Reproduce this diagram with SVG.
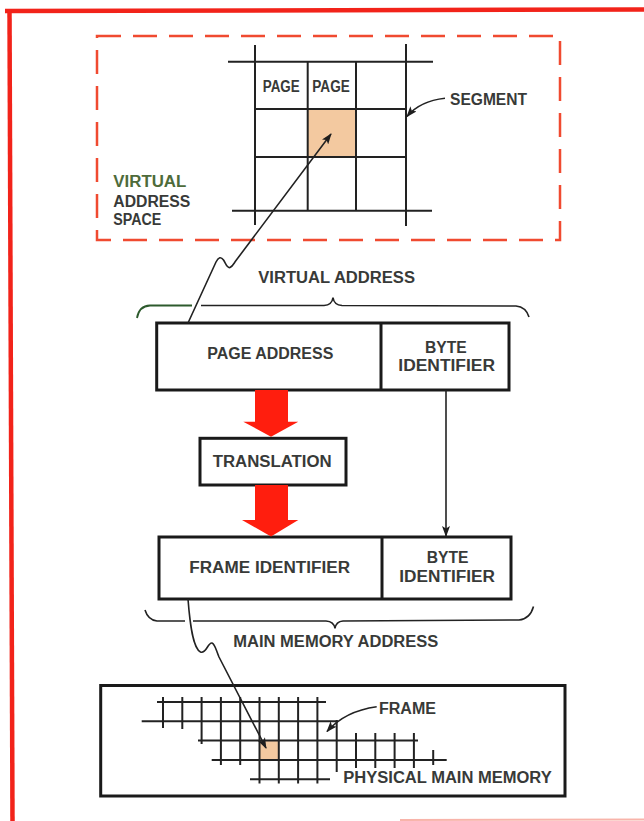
<svg xmlns="http://www.w3.org/2000/svg" width="644" height="821" viewBox="0 0 644 821">
<style>
.t{font-family:"Liberation Sans",Arial,sans-serif;font-weight:bold;font-size:16px;fill:#383a38}
.g{fill:#4e6b3a}
.box{fill:#fff;stroke:#1a1a1a;stroke-width:3}
.ln{fill:none;stroke:#222;stroke-width:1.6}
.grid{stroke:#222;stroke-width:2;fill:none}
.red{fill:#ff1e0e}
.shade{fill:#f3c9a0}
</style>
<defs>
<marker id="ah" markerWidth="11" markerHeight="8" refX="10" refY="4" orient="auto" markerUnits="userSpaceOnUse"><path d="M0,0 L11,4 L0,8 L2.5,4 z" fill="#1e1e1e"/></marker>
</defs>
<rect width="644" height="821" fill="#fff"/>
<g id="border">
<line x1="5" y1="11" x2="644" y2="9.5" stroke="#f2231a" stroke-width="4.5"/>
<line x1="9.5" y1="9" x2="12.5" y2="821" stroke="#f2231a" stroke-width="4.5"/>
<line x1="400" y1="820" x2="644" y2="819.5" stroke="#f8b4aa" stroke-width="2"/>
</g>
<g id="virtual-address-space">
<rect x="97" y="36" width="463" height="204" fill="none" stroke="#f04a30" stroke-width="2.5" stroke-dasharray="24 12"/>
<rect class="shade" x="308" y="109" width="48" height="48"/>
<g class="grid">
<line x1="228" y1="61.7" x2="433" y2="61.7"/>
<line x1="255" y1="109" x2="405" y2="109"/>
<line x1="255" y1="157" x2="405" y2="157"/>
<line x1="232" y1="210.7" x2="432" y2="210.7"/>
<line x1="255" y1="45" x2="255" y2="225"/>
<line x1="307.7" y1="61.7" x2="307.7" y2="210.7"/>
<line x1="356" y1="61.7" x2="356" y2="210.7"/>
<line x1="406" y1="44" x2="406" y2="226"/>
</g>
<text class="t" x="262.7" y="91.7" textLength="37" lengthAdjust="spacingAndGlyphs">PAGE</text>
<text class="t" x="312.3" y="91.7" textLength="37.5" lengthAdjust="spacingAndGlyphs">PAGE</text>
<text class="t g" x="113.3" y="186.7" textLength="73" lengthAdjust="spacingAndGlyphs">VIRTUAL</text>
<text class="t" x="113.3" y="206.7" textLength="77" lengthAdjust="spacingAndGlyphs">ADDRESS</text>
<text class="t" x="113.3" y="225" textLength="48" lengthAdjust="spacingAndGlyphs">SPACE</text>
</g>
<g id="segment-label">
<text class="t" x="450" y="105" textLength="77" lengthAdjust="spacingAndGlyphs" style="font-size:17px">SEGMENT</text>
</g>
<g id="virtual-address-label">
<text class="t" x="258.3" y="283.3" textLength="156.7" lengthAdjust="spacingAndGlyphs">VIRTUAL ADDRESS</text>
<path d="M137,318 Q139,306 150,305.5 L192,305.5" fill="none" stroke="#2d5a2d" stroke-width="1.8"/>
<path d="M201,305.5 L324,305.5 Q332,305 333,297.5 Q334,305 342,305.5 L516,306 Q526,307 529,317" class="ln"/>
</g>
<g id="page-address">
<rect class="box" x="156.7" y="323" width="352.3" height="67"/>
<line x1="381" y1="323" x2="381" y2="390" stroke="#1a1a1a" stroke-width="3"/>
<text class="t" x="207.3" y="359.3" textLength="126" lengthAdjust="spacingAndGlyphs">PAGE ADDRESS</text>
<text class="t" x="425" y="353.3" textLength="41.7" lengthAdjust="spacingAndGlyphs">BYTE</text>
<text class="t" x="398.3" y="370.7" textLength="96.7" lengthAdjust="spacingAndGlyphs">IDENTIFIER</text>
</g>
<g id="translation">
<rect class="box" x="200" y="438.3" width="146" height="46.7"/>
<text class="t" x="212.7" y="466.7" textLength="119" lengthAdjust="spacingAndGlyphs">TRANSLATION</text>
</g>
<g id="frame-identifier">
<rect class="box" x="159" y="537" width="352" height="62"/>
<line x1="382" y1="537" x2="382" y2="599" stroke="#1a1a1a" stroke-width="3"/>
<text class="t" x="189.3" y="573.3" textLength="160.7" lengthAdjust="spacingAndGlyphs">FRAME IDENTIFIER</text>
<text class="t" x="426.7" y="563.3" textLength="41.7" lengthAdjust="spacingAndGlyphs">BYTE</text>
<text class="t" x="399.3" y="581.7" textLength="95.7" lengthAdjust="spacingAndGlyphs">IDENTIFIER</text>
</g>
<g id="main-memory-address-label">
<path d="M145,610 Q148,620 157,621 L185,621" class="ln"/>
<path d="M193,621 L326,621 Q334,621.5 335,628.5 Q336,621.5 343,621 L519,620 Q530,619 533.5,606.5" class="ln"/>
<text class="t" x="233.3" y="646.7" textLength="205" lengthAdjust="spacingAndGlyphs">MAIN MEMORY ADDRESS</text>
</g>
<g id="physical-main-memory">
<rect class="box" x="100.7" y="685.5" width="464.3" height="110.5"/>
<rect class="shade" x="259.5" y="740.6" width="19.3" height="19.3"/>
<g class="grid">
<line x1="157" y1="702" x2="326" y2="702"/>
<line x1="141.7" y1="721.3" x2="338" y2="721.3"/>
<line x1="198" y1="740.6" x2="418" y2="740.6"/>
<line x1="211.7" y1="759.9" x2="446.7" y2="759.9"/>
<line x1="250" y1="779.2" x2="330" y2="779.2"/>
<line x1="163" y1="697" x2="163" y2="728"/>
<line x1="182.3" y1="697" x2="182.3" y2="729"/>
<line x1="201.6" y1="697" x2="201.6" y2="744"/>
<line x1="220.9" y1="697" x2="220.9" y2="765"/>
<line x1="240.2" y1="697" x2="240.2" y2="765"/>
<line x1="259.5" y1="697" x2="259.5" y2="783.5"/>
<line x1="278.8" y1="697" x2="278.8" y2="783.5"/>
<line x1="298.1" y1="697" x2="298.1" y2="783.5"/>
<line x1="317.4" y1="697" x2="317.4" y2="783.5"/>
<line x1="336.7" y1="720" x2="336.7" y2="772"/>
<line x1="356" y1="733" x2="356" y2="768"/>
<line x1="375.3" y1="733" x2="375.3" y2="768"/>
<line x1="394.6" y1="733" x2="394.6" y2="768"/>
<line x1="413.9" y1="733" x2="413.9" y2="768"/>
<line x1="433.2" y1="750" x2="433.2" y2="765"/>
</g>
<text class="t" x="379" y="713.5" textLength="57" lengthAdjust="spacingAndGlyphs">FRAME</text>
<text class="t" x="343.3" y="783.3" textLength="208.4" lengthAdjust="spacingAndGlyphs">PHYSICAL MAIN MEMORY</text>
</g>
<g id="connectors">
<path class="red" d="M255,390 L288,390 L288,421.7 L298.3,421.7 L271,436.7 L243.3,421.7 L255,421.7 Z"/>
<path class="red" d="M255,485 L288,485 L288,520 L298.3,520 L271,536.5 L242,520 L255,520 Z"/>
<path class="ln" d="M446,390 L446,536" marker-end="url(#ah)"/>
<path class="ln" d="M188,323 L216,262 C218.5,257 221,256.5 223.5,260 C226,264 227,268.5 230,267.5 C232.5,266.5 233.5,264 236,260.5 L331,134" marker-end="url(#ah)"/>
<path class="ln" d="M188,599 C190,625 193,648 200.5,652 C206,654.5 208,642 212,643 C215,644 216,650 219,657 L266,748" marker-end="url(#ah)"/>
<path class="ln" d="M445,98.3 Q420,101 407,116.5" marker-end="url(#ah)"/>
<path class="ln" d="M376.7,706.7 Q345,711 327,731.5" marker-end="url(#ah)"/>
</g>
</svg>
